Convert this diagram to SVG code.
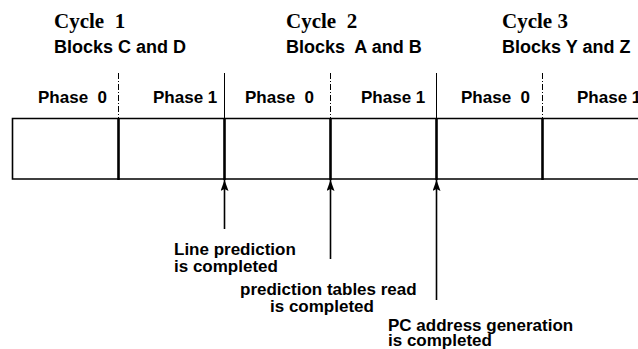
<svg xmlns="http://www.w3.org/2000/svg" width="638" height="349" viewBox="0 0 638 349">
<style>
.cyc{font-family:"Liberation Serif","Times New Roman",serif;font-weight:bold;font-size:21px;fill:#000;white-space:pre}
.blk{font-family:"Liberation Sans",Arial,sans-serif;font-weight:bold;font-size:18px;fill:#000;white-space:pre}
.ph{font-family:"Liberation Sans",Arial,sans-serif;font-weight:bold;font-size:17px;fill:#000;white-space:pre}
.lbl{font-family:"Liberation Sans",Arial,sans-serif;font-weight:bold;font-size:17px;fill:#000;white-space:pre}
.box{fill:none;stroke:#000;stroke-width:1.6}
.thick{stroke:#000;stroke-width:2.6}
.solidtop{stroke:#000;stroke-width:1}
.dashtop{stroke:#000;stroke-width:1;stroke-dasharray:6,2,1,2}
.arr{stroke:#000;stroke-width:1.6;fill:none;marker-end:url(#ah)}
</style>
<defs>
<marker id="ah" markerWidth="11" markerHeight="8" refX="11" refY="4" orient="auto" markerUnits="userSpaceOnUse" viewBox="0 0 11 8">
<path d="M11,4 L0,0 L2,4 L0,8 Z" fill="#000"/>
</marker>
</defs>
<g id="headers">
<text class="cyc" x="54" y="28">Cycle  1</text>
<text class="blk" x="54" y="53">Blocks C and D</text>
<text class="cyc" x="286" y="28">Cycle  2</text>
<text class="blk" x="286" y="53">Blocks  A and B</text>
<text class="cyc" x="502" y="28">Cycle 3</text>
<text class="blk" x="502" y="53">Blocks Y and Z</text>
</g>
<g id="phases">
<text class="ph" x="38" y="103">Phase  0</text>
<text class="ph" x="153" y="103">Phase 1</text>
<text class="ph" x="245" y="103">Phase  0</text>
<text class="ph" x="361" y="103">Phase 1</text>
<text class="ph" x="461" y="103">Phase  0</text>
<text class="ph" x="577" y="103">Phase 1</text>
</g>
<g id="pipeline">
<path class="box" d="M640,118.5 H12.5 V179 H640"/>
<line class="thick" x1="118.5" y1="118" x2="118.5" y2="180"/>
<line class="thick" x1="224.5" y1="118" x2="224.5" y2="180"/>
<line class="thick" x1="330.5" y1="118" x2="330.5" y2="180"/>
<line class="thick" x1="436.5" y1="118" x2="436.5" y2="180"/>
<line class="thick" x1="542.5" y1="118" x2="542.5" y2="180"/>
<line class="dashtop" x1="118.5" y1="73" x2="118.5" y2="118"/>
<line class="solidtop" x1="224.5" y1="73" x2="224.5" y2="118"/>
<line class="dashtop" x1="330.5" y1="73" x2="330.5" y2="118"/>
<line class="solidtop" x1="436.5" y1="73" x2="436.5" y2="118"/>
<line class="dashtop" x1="542.5" y1="73" x2="542.5" y2="118"/>
</g>
<g id="connectors">
<line class="arr" x1="224.5" y1="229" x2="224.5" y2="180"/>
<line class="arr" x1="330.5" y1="259" x2="330.5" y2="180"/>
<line class="arr" x1="436.5" y1="300" x2="436.5" y2="180"/>
</g>
<g id="label-line">
<text class="lbl" x="174" y="255">Line prediction</text>
<text class="lbl" x="174" y="272">is completed</text>
</g>
<g id="label-tables">
<text class="lbl" x="240" y="295">prediction tables read</text>
<text class="lbl" x="270" y="312">is completed</text>
</g>
<g id="label-pc">
<text class="lbl" x="388" y="331">PC address generation</text>
<text class="lbl" x="388" y="346">is completed</text>
</g>
</svg>
